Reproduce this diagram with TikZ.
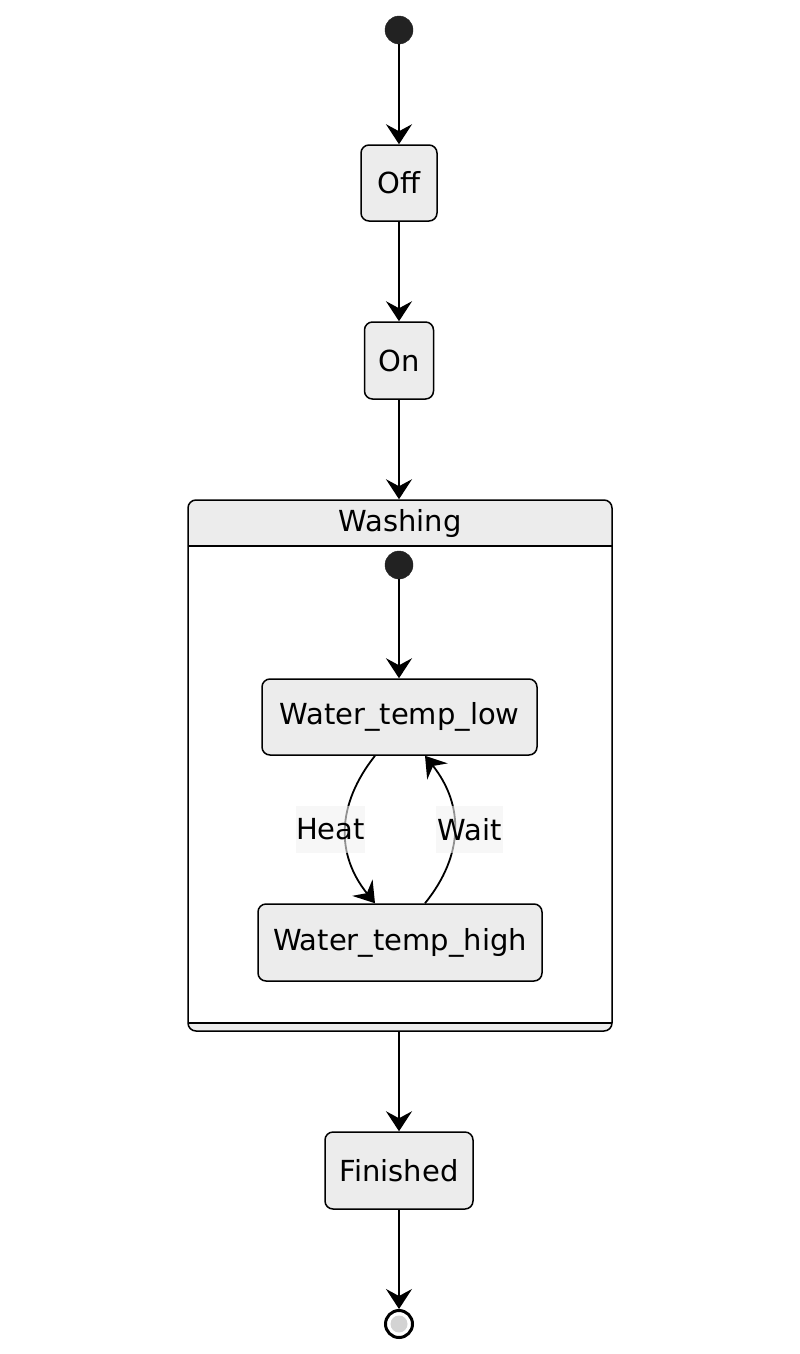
\documentclass[tikz,border=0pt]{standalone}
\usepackage{fontspec}
\setmainfont{DejaVu Sans}
\usetikzlibrary{arrows.meta}
\definecolor{boxfill}{HTML}{ECECEC}
\definecolor{dotfill}{HTML}{222222}
\definecolor{lblfill}{HTML}{F2F2F2}
\definecolor{endfill}{HTML}{D3D3D3}
\tikzset{
  statebox/.style={draw=black, fill=boxfill, line width=1.5pt, rounded corners=8pt, inner sep=0pt, font=\fontsize{29}{34}\selectfont},
  startdot/.style={circle, fill=dotfill, draw=dotfill, minimum size=28pt, inner sep=0pt},
  conn/.style={line width=1.8pt, -{Stealth[length=20pt, width=26pt, inset=7pt]}},
  lbl/.style={fill=lblfill, fill opacity=0.6, text opacity=1, inner sep=0pt, minimum width=67pt, minimum height=47pt, font=\fontsize{29}{34}\selectfont},
}
\begin{document}
\begin{tikzpicture}[x=1pt,y=-1pt]
\useasboundingbox (0,0) rectangle (800,1354);
% composite Washing
\fill[boxfill, rounded corners=8pt] (188,500) rectangle (612,1031);
\fill[white] (189,546) rectangle (611,1023);
\node (wash) [draw=black, line width=1.5pt, rounded corners=8pt, minimum width=424pt, minimum height=531pt, inner sep=0pt] at (400,765.5) {};
\draw[line width=1.5pt] (188,546) -- (612,546);
\draw[line width=1.5pt] (188,1023) -- (612,1023);
\node (washlbl) [font=\fontsize{29}{34}\selectfont] at (400,523) {Washing};

\node (start) [startdot] at (399,30) {};
\node (off) [statebox, minimum width=76pt, minimum height=76pt] at (399,183) {Off};
\node (on) [statebox, minimum width=69pt, minimum height=77pt] at (399,360.5) {On};
\node (istart) [startdot] at (399,565) {};
\node (low) [statebox, minimum width=275pt, minimum height=76pt] at (399.5,717) {Water\_temp\_low};
\node (high) [statebox, minimum width=284pt, minimum height=77pt] at (400,942.5) {Water\_temp\_high};
\node (fin) [statebox, minimum width=148pt, minimum height=77pt] at (399,1170.5) {Finished};
\node (end) [circle, draw=black, line width=3pt, fill=white, minimum size=27pt, inner sep=0pt] at (399,1324) {};
\node (endin) [circle, fill=endfill, minimum size=17pt, inner sep=0pt] at (end.center) {};

\draw[conn] (start) -- (off.north);
\draw[conn] (off.south) -- (on.north);
\draw[conn] (on.south) -- (wash.north -| on.south);
\draw[conn] (istart) -- (low.north -| istart);
\draw[conn] (wash.south -| fin.north) -- (fin.north);
\draw[conn] (fin.south) -- (end.north);

\draw[conn] ([xshift=-24.5pt]low.south) .. controls (336,805) and (336,855) .. ([xshift=-25pt]high.north);
\draw[conn] ([xshift=25pt]high.north) .. controls (464,855) and (464,805) .. ([xshift=25.5pt]low.south);

\node (heat) [lbl] at (330.5,829.5) {Heat};
\node (wait) [lbl] at (469.5,829.5) {Wait};
\end{tikzpicture}
\end{document}
